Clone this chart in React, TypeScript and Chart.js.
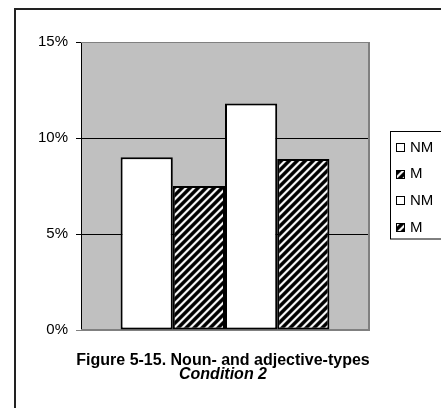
import { useEffect, useRef } from "react";
import { Chart, registerables } from "chart.js";

Chart.register(...registerables);

// One category, four bars (noun / adjective, non-marked / marked)
const categories = [""];
const seriesLabels = ["NM", "M", "NM", "M"];
const nounNM = [9.0];
const nounM = [7.5];
const adjNM = [11.8];
const adjM = [8.9];
const yTicks = [0, 5, 10, 15];
const titleLine1 = "Figure 5-15. Noun- and adjective-types";
const titleLine2 = "Condition 2";

const W = 441;
const H = 408;
const FONT = "Arial, 'Liberation Sans', sans-serif";

function makeStripePattern(ctx: CanvasRenderingContext2D): CanvasPattern {
  const size = 8;
  const tile = document.createElement("canvas");
  tile.width = size;
  tile.height = size;
  const tctx = tile.getContext("2d")!;
  const img = tctx.createImageData(size, size);
  const levels = [0, 0, 0, 50, 210, 255, 210, 50];
  for (let y = 0; y < size; y++) {
    for (let x = 0; x < size; x++) {
      const v = levels[(x + y) % size];
      const i = (y * size + x) * 4;
      img.data[i] = v;
      img.data[i + 1] = v;
      img.data[i + 2] = v;
      img.data[i + 3] = 255;
    }
  }
  tctx.putImageData(img, 0, 0);
  return ctx.createPattern(tile, "repeat")!;
}

export default function App() {
  const canvasRef = useRef<HTMLCanvasElement | null>(null);

  useEffect(() => {
    const canvas = canvasRef.current;
    if (!canvas) return;
    const ctx = canvas.getContext("2d")!;
    const stripes = makeStripePattern(ctx);
    const fills: (string | CanvasPattern)[] = ["#ffffff", stripes, "#ffffff", stripes];

    const decorations = {
      id: "decorations",
      beforeDraw(chart: Chart) {
        const c = chart.ctx;
        const a = chart.chartArea;
        c.save();
        c.fillStyle = "#ffffff";
        c.fillRect(0, 0, W, H);
        // outer frame: left and top edges only reach into view
        c.strokeStyle = "#222222";
        c.lineWidth = 2;
        c.beginPath();
        c.moveTo(15, H);
        c.lineTo(15, 9);
        c.lineTo(W, 9);
        c.stroke();
        // plot background
        c.fillStyle = "#c0c0c0";
        c.fillRect(a.left, a.top, a.right - a.left, a.bottom - a.top);
        c.restore();
      },
      beforeDatasetsDraw(chart: Chart) {
        const c = chart.ctx;
        const a = chart.chartArea;
        c.save();
        c.strokeStyle = "#808080";
        c.lineWidth = 1;
        c.beginPath();
        c.moveTo(a.left, a.top + 0.5);
        c.lineTo(a.right, a.top + 0.5);
        c.stroke();
        c.lineWidth = 2;
        c.beginPath();
        c.moveTo(a.right, a.top);
        c.lineTo(a.right, a.bottom);
        c.moveTo(a.left, a.bottom);
        c.lineTo(a.right + 1, a.bottom);
        c.stroke();
        c.restore();
      },
      afterDraw(chart: Chart) {
        const c = chart.ctx;
        const a = chart.chartArea;
        c.save();
        // legend
        c.fillStyle = "#ffffff";
        c.fillRect(390.5, 131.5, 60, 107.5);
        c.strokeStyle = "#000000";
        c.lineWidth = 1;
        c.strokeRect(390.5, 131.5, 60, 107.5);
        c.font = `15px ${FONT}`;
        c.textBaseline = "middle";
        c.textAlign = "left";
        seriesLabels.forEach((label, i) => {
          const cy = 147 + i * 26.7;
          const top = Math.round(cy - 4);
          c.fillStyle = fills[i];
          c.fillRect(396, top, 8, 8);
          c.strokeStyle = "#000000";
          c.lineWidth = 1;
          c.strokeRect(396.5, top + 0.5, 8, 8);
          c.fillStyle = "#000000";
          c.fillText(label, 410, cy + 0.5);
        });
        // caption
        const cx = (a.left + a.right) / 2 - 2;
        c.textAlign = "center";
        c.textBaseline = "alphabetic";
        c.font = `bold 16px ${FONT}`;
        c.fillText(titleLine1, cx, 365);
        c.font = `italic bold 16px ${FONT}`;
        c.fillText(titleLine2, cx, 379);
        c.restore();
      },
    };

    const chart = new Chart(canvas, {
      type: "bar",
      data: {
        labels: categories,
        datasets: [
          { label: seriesLabels[0], data: nounNM, backgroundColor: fills[0] },
          { label: seriesLabels[1], data: nounM, backgroundColor: fills[1] },
          { label: seriesLabels[2], data: adjNM, backgroundColor: fills[2] },
          { label: seriesLabels[3], data: adjM, backgroundColor: fills[3] },
        ].map((d) => ({
          ...d,
          borderColor: "#000000",
          borderWidth: 2,
          borderSkipped: false as const,
          categoryPercentage: 0.725,
          barPercentage: 1,
        })),
      },
      options: {
        responsive: false,
        animation: false,
        layout: { padding: { left: 31, right: 72, top: 42, bottom: 78 } },
        plugins: {
          legend: { display: false },
          tooltip: { enabled: false },
          title: { display: false },
        },
        scales: {
          x: { display: false, grid: { display: false } },
          y: {
            min: 0,
            max: 15,
            afterFit: (scale: any) => {
              scale.width = 50;
            },
            afterBuildTicks: (scale: any) => {
              scale.ticks = yTicks.map((v) => ({ value: v }));
            },
            ticks: {
              stepSize: 5,
              padding: 8,
              color: "#000000",
              font: { family: FONT, size: 15 },
              callback: (v: any) => `${v}%`,
            },
            grid: {
              drawTicks: true,
              tickLength: 5,
              lineWidth: 1,
              color: (ctx: any) =>
                ctx.tick && (ctx.tick.value === 5 || ctx.tick.value === 10)
                  ? "#000000"
                  : "rgba(0,0,0,0)",
              tickColor: (ctx: any) =>
                ctx.tick && ctx.tick.value === 0 ? "#808080" : "#000000",
            },
            border: { display: true, color: "#000000", width: 1 },
          },
        },
      },
      plugins: [decorations],
    });

    return () => chart.destroy();
  }, []);

  return (
    <div style={{ position: "fixed", left: 0, top: 0, width: W, height: H }}>
      <canvas ref={canvasRef} width={W} height={H} style={{ display: "block" }} />
    </div>
  );
}
